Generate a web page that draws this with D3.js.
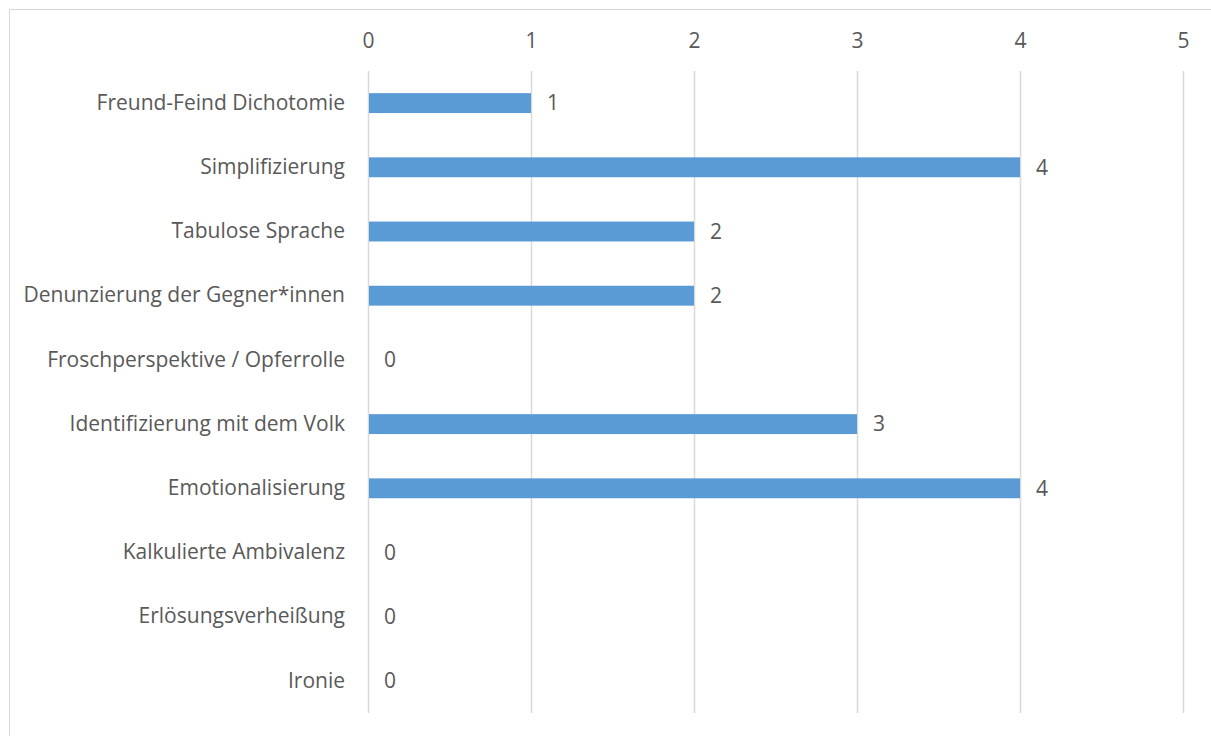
<!DOCTYPE html>
<html>
<head>
<meta charset="utf-8">
<script src="https://cdn.jsdelivr.net/npm/d3@7"></script>
<style>
  html, body { margin: 0; padding: 0; background: #fff; }
  svg { display: block; }
  text { font-family: "Open Sans", sans-serif; fill: #595959; }
</style>
</head>
<body>
<svg id="chart" width="1211" height="736"></svg>
<script>
// Categories, top to bottom
const categories = [
  "Freund-Feind Dichotomie",
  "Simplifizierung",
  "Tabulose Sprache",
  "Denunzierung der Gegner*innen",
  "Froschperspektive / Opferrolle",
  "Identifizierung mit dem Volk",
  "Emotionalisierung",
  "Kalkulierte Ambivalenz",
  "Erlösungsverheißung",
  "Ironie"
];
const values = [1, 4, 2, 2, 0, 3, 4, 0, 0, 0];
const tickValues = [0, 1, 2, 3, 4, 5];

const FONT = 21;
const svg = d3.select("#chart");

// Outer frame
svg.append("rect")
  .attr("x", 9.5).attr("y", 9.5)
  .attr("width", 1220).attr("height", 740)
  .attr("fill", "none").attr("stroke", "#d9d9d9").attr("stroke-width", 1);

const x = d3.scaleLinear().domain([0, 5]).range([368, 1183]);
const y = d3.scaleBand().domain(categories).range([71, 713]).paddingInner(0.69).paddingOuter(0.345);

// Vertical gridlines
svg.append("g")
  .selectAll("line")
  .data(tickValues)
  .join("line")
  .attr("x1", d => Math.round(x(d)) + 0.5)
  .attr("x2", d => Math.round(x(d)) + 0.5)
  .attr("y1", 71).attr("y2", 713)
  .attr("stroke", "#d9d9d9").attr("stroke-width", 1.5);

// Top axis labels
const xAxis = d3.axisTop(x).tickValues(tickValues).tickSize(0).tickPadding(0).tickFormat(d3.format("d"));
const gx = svg.append("g").attr("transform", "translate(0,48)").call(xAxis);
gx.select(".domain").remove();
gx.selectAll("text").attr("font-size", FONT).attr("font-family", "'Open Sans', sans-serif").attr("fill", "#595959");

// Category labels
const yAxis = d3.axisLeft(y).tickSize(0).tickPadding(23);
const gy = svg.append("g").attr("transform", "translate(368,0)").call(yAxis);
gy.select(".domain").remove();
gy.selectAll("text").attr("font-size", FONT).attr("font-family", "'Open Sans', sans-serif").attr("fill", "#595959");

// Bars
svg.append("g")
  .selectAll("rect")
  .data(values)
  .join("rect")
  .attr("x", x(0) + 1)
  .attr("y", (d, i) => y(categories[i]))
  .attr("width", d => Math.max(0, x(d) - x(0) - 1))
  .attr("height", y.bandwidth())
  .attr("fill", "#5b9bd5");

// Value labels
svg.append("g")
  .selectAll("text")
  .data(values)
  .join("text")
  .attr("x", d => x(d) + 16)
  .attr("y", (d, i) => y(categories[i]) + y.bandwidth() / 2)
  .attr("dy", "0.35em")
  .attr("font-size", FONT)
  .text(d => d);
</script>
</body>
</html>
